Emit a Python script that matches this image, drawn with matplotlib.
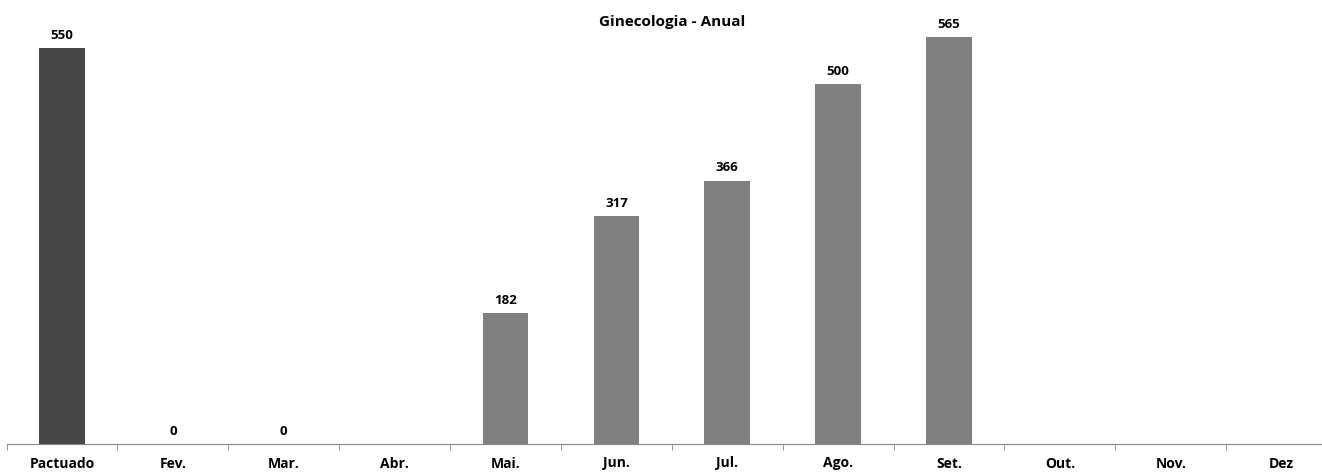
import numpy as np
import matplotlib.pyplot as plt

plt.rcParams['font.family'] = ['Open Sans', 'DejaVu Sans']

categorias = ['Pactuado', 'Fev.', 'Mar.', 'Abr.', 'Mai.', 'Jun.', 'Jul.', 'Ago.', 'Set.', 'Out.', 'Nov.', 'Dez']
valores = [550, 0, 0, None, 182, 317, 366, 500, 565, None, None, None]
titulo = 'Ginecologia - Anual'

W, H = 1322, 472
fig = plt.figure(figsize=(W / 100, H / 100), dpi=100)
# eixo um pouco maior que a figura, como no original (cortado à direita)
x0, x1 = 6.5, 1337.0
y_base, y_top = 444.0, 12.3
ax = fig.add_axes([x0 / W, (H - y_base) / H, (x1 - x0) / W, (y_base - y_top) / H])

x = np.arange(len(categorias))
cores = ['#474747'] + ['#808080'] * (len(categorias) - 1)
alturas = [v if v is not None else 0 for v in valores]
ax.bar(x, alturas, width=0.41, color=cores)

for xi, v in zip(x, valores):
    if v is None:
        continue
    ax.annotate(str(v), (xi, v), xytext=(0, 4.5), textcoords='offset points',
                ha='center', va='bottom', fontsize=9.5, fontweight='bold')

ax.set_xlim(-0.5, len(categorias) - 0.5)
ax.set_ylim(0, 600)
ax.set_xticks(x)
ax.set_xticklabels(categorias, fontsize=10, fontweight='bold')
ax.set_xticks(np.arange(len(categorias) + 1) - 0.5, minor=True)
ax.tick_params(axis='x', which='major', length=0, pad=9)
ax.tick_params(axis='x', which='minor', length=4, color='#868686', direction='out')
ax.set_yticks([])
for s in ['top', 'right', 'left']:
    ax.spines[s].set_visible(False)
ax.spines['bottom'].set_color('#868686')

fig.text(672 / W, 1 - 22 / H, titulo, ha='center', va='center', fontsize=11, fontweight='bold')

fig.savefig('out.png', dpi=100)
